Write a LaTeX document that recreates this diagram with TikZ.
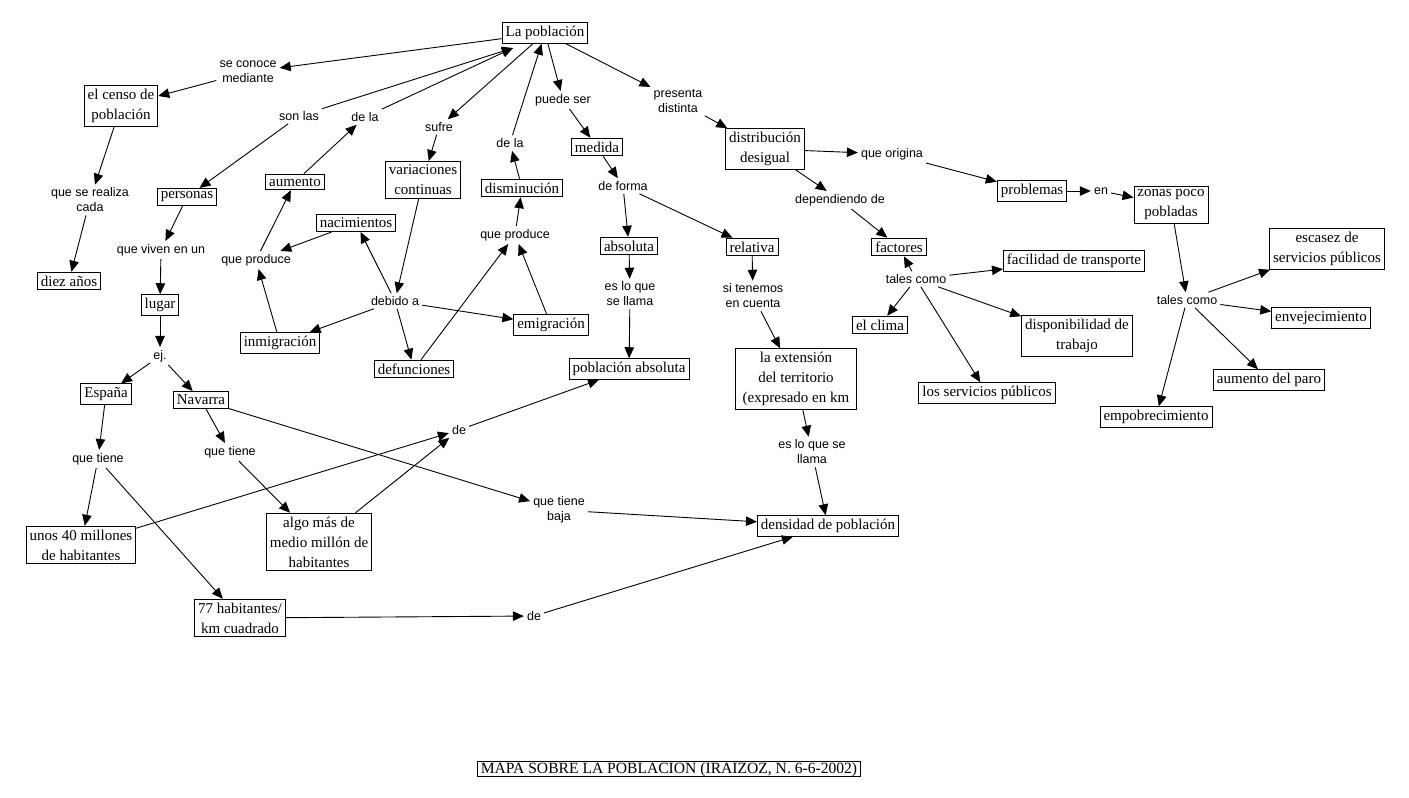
\documentclass[tikz,border=0pt]{standalone}
\usepackage{fontspec}
\setmainfont{Liberation Serif}
\setsansfont{Liberation Sans}
\usetikzlibrary{arrows.meta}

\begin{document}
\begin{tikzpicture}[x=1pt, y=-1pt,
		concepto/.style={draw, line width=0.9pt, inner xsep=3.5pt, inner ysep=3.5pt, align=center, font=\fontsize{15}{20}\selectfont},
		enlace/.style={inner sep=3pt, align=center, font=\sffamily\fontsize{12.5}{15}\selectfont},
		flecha/.style={line width=0.9pt, -{Triangle[length=11pt, width=9.5pt]}}]
	\useasboundingbox (0, 0) rectangle (1409, 798);
	% Conceptos
	\begin{scope}
		\node[concepto] (poblacion) at (545, 33) {La población};
		\node[concepto] (censo) at (121, 106) {el censo de\\población};
		\node[concepto] (diez) at (69, 281) {diez años};
		\node[concepto] (personas) at (187, 197) {personas};
		\node[concepto] (aumento) at (295, 182) {aumento};
		\node[concepto] (variaciones) at (423, 180) {variaciones\\continuas};
		\node[concepto] (nacimientos) at (356, 223) {nacimientos};
		\node[concepto] (lugar) at (160, 305) {lugar};
		\node[concepto] (inmigracion) at (280, 343) {inmigración};
		\node[concepto] (defunciones) at (414, 369) {defunciones};
		\node[concepto] (espana) at (106, 394) {España};
		\node[concepto] (navarra) at (201, 400) {Navarra};
		\node[concepto] (millones) at (81, 545) {unos 40 millones\\de habitantes};
		\node[concepto] (medio) at (319, 542) {algo más de\\medio millón de\\habitantes};
		\node[concepto] (habkm) at (240, 618) {77 habitantes/\\km cuadrado};
		\node[concepto] (disminucion) at (522, 188) {disminución};
		\node[concepto] (medida) at (597, 147) {medida};
		\node[concepto] (distribucion) at (765, 149) {distribución\\desigual};
		\node[concepto] (absoluta) at (629, 246) {absoluta};
		\node[concepto] (relativa) at (752, 247) {relativa};
		\node[concepto] (factores) at (899, 247) {factores};
		\node[concepto] (problemas) at (1032, 191) {problemas};
		\node[concepto] (zonas) at (1171, 205) {zonas poco\\pobladas};
		\node[concepto] (facilidad) at (1074, 261) {facilidad de transporte};
		\node[concepto] (escasez) at (1327, 249) {escasez de\\servicios públicos};
		\node[concepto] (emigracion) at (551, 325) {emigración};
		\node[concepto] (pabsoluta) at (629, 369) {población absoluta};
		\node[concepto, minimum width=121pt] (extension) at (796, 379) {la extensión\\del territorio\\(expresado en km};
		\node[concepto] (clima) at (880, 325) {el clima};
		\node[concepto] (densidad) at (828, 526) {densidad de población};
		\node[concepto] (servicios) at (987, 393) {los servicios públicos};
		\node[concepto] (disponibilidad) at (1077, 336) {disponibilidad de\\trabajo};
		\node[concepto] (envejecimiento) at (1321, 318) {envejecimiento};
		\node[concepto] (paro) at (1269, 380) {aumento del paro};
		\node[concepto] (empobrecimiento) at (1156, 417) {empobrecimiento};
	\end{scope}
	% Enlaces
	\begin{scope}
		\node[enlace] (conoce) at (248, 72) {se conoce\\mediante};
		\node[enlace] (realiza) at (90, 200) {que se realiza\\cada};
		\node[enlace] (sonlas) at (299, 116) {son las};
		\node[enlace] (delaA) at (365, 117) {de la};
		\node[enlace] (sufre) at (439, 127) {sufre};
		\node[enlace] (viven) at (161, 250) {que viven en un};
		\node[enlace] (produceA) at (256, 260) {que produce};
		\node[enlace] (debido) at (395, 301) {debido a};
		\node[enlace] (ej) at (160, 356) {ej.};
		\node[enlace] (tieneE) at (98, 459) {que tiene};
		\node[enlace] (tieneN) at (230, 452) {que tiene};
		\node[enlace] (deA) at (459, 430) {de};
		\node[enlace] (delaB) at (510, 143) {de la};
		\node[enlace] (puede) at (563, 100) {puede ser};
		\node[enlace] (presenta) at (678, 101) {presenta\\distinta};
		\node[enlace] (produceB) at (515, 235) {que produce};
		\node[enlace] (forma) at (623, 186) {de forma};
		\node[enlace] (origina) at (892, 154) {que origina};
		\node[enlace] (dependiendo) at (840, 200) {dependiendo de};
		\node[enlace] (talesA) at (916, 279) {tales como};
		\node[enlace] (llamaA) at (630, 294) {es lo que\\se llama};
		\node[enlace] (cuenta) at (753, 296) {si tenemos\\en cuenta};
		\node[enlace] (llamaB) at (812, 452) {es lo que se\\llama};
		\node[enlace] (tienebaja) at (559, 510) {que tiene\\baja};
		\node[enlace] (deB) at (534, 616) {de};
		\node[enlace] (en) at (1101, 191) {en};
		\node[enlace] (talesB) at (1187, 300) {tales como};
	\end{scope}
	% Titulo
	\node[draw, line width=0.9pt, inner xsep=3pt, inner ysep=1.5pt, text height=10.5pt, text depth=1pt, font=\fontsize{15.6}{18}\selectfont] (titulo) at (669, 769) {MAPA SOBRE LA POBLACION (IRAIZOZ, N. 6-6-2002)};
	\coordinate (entrada) at (513, 48);
	% Flechas izquierda
	\draw[flecha] (poblacion) -- (conoce);
	\draw[flecha] (conoce) -- (censo);
	\draw[flecha] (censo) -- (realiza);
	\draw[flecha] (realiza) -- (diez);
	\draw[flecha] (sonlas) -- (entrada);
	\draw[flecha] (sonlas) -- (personas);
	\draw[flecha] (personas) -- (viven);
	\draw[flecha] (viven) -- (lugar);
	\draw[flecha] (lugar) -- (ej);
	\draw[flecha] (ej) -- (espana);
	\draw[flecha] (ej) -- (navarra);
	\draw[flecha] (espana) -- (tieneE);
	\draw[flecha] (tieneE) -- (millones);
	\draw[flecha] (tieneE) -- (habkm);
	\draw[flecha] (navarra) -- (tieneN);
	\draw[flecha] (tieneN) -- (medio);
	\draw[flecha] (navarra) -- (tienebaja);
	\draw[flecha] (tienebaja) -- (densidad);
	\draw[flecha] (millones) -- (deA);
	\draw[flecha] (medio) -- (deA);
	\draw[flecha] (deA) -- (pabsoluta);
	\draw[flecha] (habkm) -- (deB);
	\draw[flecha] (deB) -- (densidad);
	% Flechas centro
	\draw[flecha] (aumento) -- (delaA);
	\draw[flecha] (delaA) -- (entrada);
	\draw[flecha] (produceA) -- (aumento);
	\draw[flecha] (nacimientos) -- (produceA);
	\draw[flecha] (inmigracion) -- (produceA);
	\draw[flecha] (poblacion) -- (sufre);
	\draw[flecha] (sufre) -- (variaciones);
	\draw[flecha] (variaciones) -- (debido);
	\draw[flecha] (debido) -- (nacimientos);
	\draw[flecha] (debido) -- (inmigracion);
	\draw[flecha] (debido) -- (defunciones);
	\draw[flecha] (debido) -- (emigracion);
	\draw[flecha] (defunciones) -- (produceB);
	\draw[flecha] (emigracion) -- (produceB);
	\draw[flecha] (produceB) -- (disminucion);
	\draw[flecha] (disminucion) -- (delaB);
	\draw[flecha] (delaB) -- (poblacion);
	\draw[flecha] (poblacion) -- (puede);
	\draw[flecha] (puede) -- (medida);
	\draw[flecha] (medida) -- (forma);
	\draw[flecha] (forma) -- (absoluta);
	\draw[flecha] (forma) -- (relativa);
	\draw[flecha] (absoluta) -- (llamaA);
	\draw[flecha] (llamaA) -- (pabsoluta);
	\draw[flecha] (relativa) -- (cuenta);
	\draw[flecha] (cuenta) -- (extension);
	\draw[flecha] (extension) -- (llamaB);
	\draw[flecha] (llamaB) -- (densidad);
	% Flechas derecha
	\draw[flecha] (poblacion) -- (presenta);
	\draw[flecha] (presenta) -- (distribucion);
	\draw[flecha] (distribucion) -- (origina);
	\draw[flecha] (origina) -- (problemas);
	\draw[flecha] (problemas) -- (en);
	\draw[flecha] (en) -- (zonas);
	\draw[flecha] (distribucion) -- (dependiendo);
	\draw[flecha] (dependiendo) -- (factores);
	\draw[flecha] (talesA) -- (factores);
	\draw[flecha] (talesA) -- (facilidad);
	\draw[flecha] (talesA) -- (clima);
	\draw[flecha] (talesA) -- (servicios);
	\draw[flecha] (talesA) -- (disponibilidad);
	\draw[flecha] (zonas) -- (talesB);
	\draw[flecha] (talesB) -- (escasez);
	\draw[flecha] (talesB) -- (envejecimiento);
	\draw[flecha] (talesB) -- (paro);
	\draw[flecha] (talesB) -- (empobrecimiento);
\end{tikzpicture}
\end{document}
